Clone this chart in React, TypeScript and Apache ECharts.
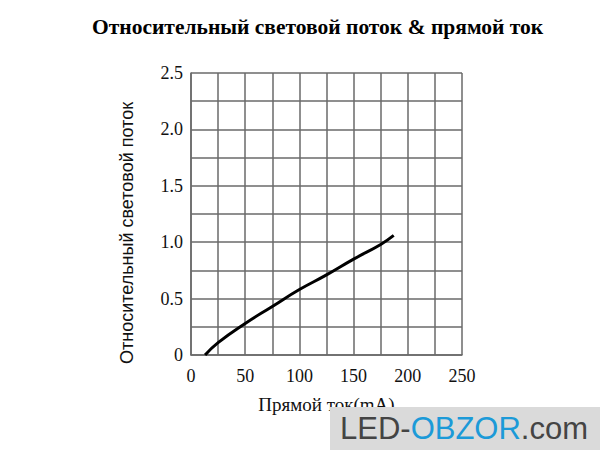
import React, { useEffect, useRef } from "react";
import * as echarts from "echarts";

const currentMA = [13, 25, 50, 75, 100, 125, 150, 175, 187];
const relativeFlux = [0, 0.11, 0.28, 0.43, 0.58, 0.71, 0.85, 0.98, 1.06];
const titleText = "Относительный световой поток & прямой ток";
const xName = "Прямой ток(mA)";
const yName = "Относительный световой поток";

export default function App() {
  const ref = useRef<HTMLDivElement>(null);
  useEffect(() => {
    const chart = echarts.init(ref.current!, null, { renderer: "svg" });
    const gridColor = "#6a6a6a";
    chart.setOption({
      animation: false,
      backgroundColor: "#ffffff",
      title: {
        text: titleText,
        left: 87,
        top: 11,
        textStyle: { fontFamily: "Liberation Serif", fontWeight: "bold", fontSize: 21.5, color: "#000" },
      },
      grid: { left: 191, right: 138, top: 73, bottom: 95, containLabel: false },
      xAxis: {
        type: "value",
        min: 0,
        max: 250,
        interval: 25,
        name: xName,
        nameLocation: "middle",
        nameGap: 40,
        nameTextStyle: { fontFamily: "Liberation Serif", fontSize: 19, color: "#111" },
        axisLine: { show: true, lineStyle: { color: gridColor, width: 1.5 } },
        axisTick: { show: false },
        axisLabel: {
          margin: 12,
          fontFamily: "Liberation Serif",
          fontSize: 18,
          color: "#111",
          formatter: (v: number) => (v % 50 === 0 ? String(v) : ""),
        },
        splitLine: { show: true, lineStyle: { color: gridColor, width: 1.5 } },
      },
      yAxis: {
        type: "value",
        min: 0,
        max: 2.5,
        interval: 0.25,
        axisLine: { show: true, lineStyle: { color: gridColor, width: 1.5 } },
        axisTick: { show: false },
        axisLabel: {
          margin: 8,
          fontFamily: "Liberation Serif",
          fontSize: 18,
          color: "#111",
          formatter: (v: number) => {
            const r = Math.round(v * 100) / 100;
            if (Math.round(r * 100) % 50 !== 0) return "";
            return r === 0 ? "0" : r.toFixed(1);
          },
        },
        splitLine: { show: true, lineStyle: { color: gridColor, width: 1.5 } },
      },
      series: [
        {
          type: "line",
          data: currentMA.map((x, i) => [x, relativeFlux[i]]),
          smooth: true,
          showSymbol: false,
          lineStyle: { color: "#000", width: 3 },
        },
      ],
      graphic: [
        {
          type: "rect",
          shape: { x: 330, y: 407, width: 270, height: 43 },
          style: { fill: "#dadada" },
          z: 100,
        },
        {
          type: "text",
          x: 127,
          y: 233,
          rotation: Math.PI / 2,
          style: {
            text: yName,
            fontFamily: "Liberation Sans",
            fontSize: 18,
            fill: "#111",
            align: "center",
            verticalAlign: "middle",
          },
        },
        {
          type: "text",
          x: 340,
          y: 428,
          z: 101,
          style: {
            text: "{a|LED-}{b|OBZOR}{a|.com}",
            verticalAlign: "middle",
            rich: {
              a: { fontFamily: "Liberation Sans", fontSize: 31, fill: "#444", color: "#444" },
              b: { fontFamily: "Liberation Sans", fontSize: 31, fill: "#1c9ad8", color: "#1c9ad8" },
            },
          },
        },
      ],
    });
    return () => chart.dispose();
  }, []);
  return <div ref={ref} style={{ width: 600, height: 450, position: "fixed", left: 0, top: 0 }} />;
}
